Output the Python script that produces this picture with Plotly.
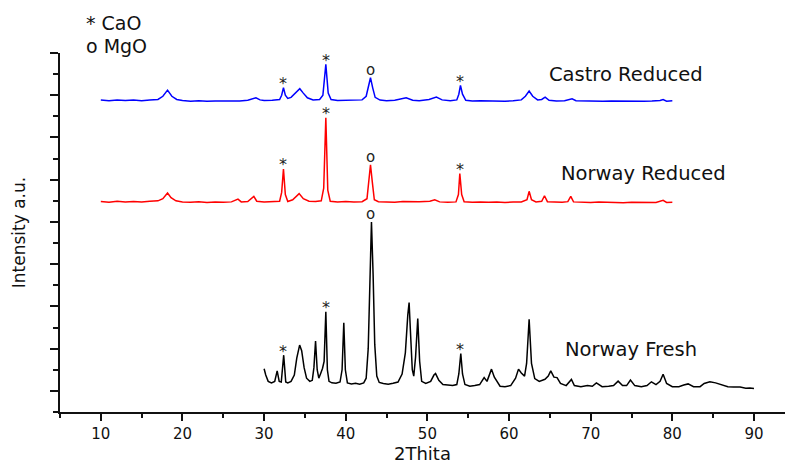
import plotly.graph_objects as go

# ---------------- data ----------------
# Norway Fresh (black)
fresh_x = [30.0, 30.2, 30.5, 30.9, 31.3, 31.6, 31.85, 32.1, 32.4, 32.65, 32.9, 33.3, 33.7, 34.0, 34.35,
           34.6, 34.9, 35.2, 35.6, 35.9, 36.1, 36.3, 36.5, 36.7, 36.95, 37.15, 37.35, 37.56, 37.75, 37.95,
           38.3, 38.8, 39.3, 39.55, 39.76, 39.95, 40.2, 40.7, 41.2, 41.7, 42.2, 42.5, 42.75, 42.95, 43.15,
           43.35, 43.55, 43.8, 44.1, 44.6, 45.2, 45.8, 46.4, 46.9, 47.3, 47.6, 47.76, 47.95, 48.15, 48.33,
           48.55, 48.82, 49.05, 49.3, 49.8, 50.4, 50.8, 51.0, 51.4, 51.9, 52.5, 53.1, 53.6, 53.85, 54.09,
           54.3, 54.6, 55.2, 55.8, 56.4, 56.95, 57.3, 57.85, 58.2, 58.9, 59.5, 60.2, 60.8, 61.16, 61.5,
           61.9, 62.15, 62.46, 62.75, 63.15, 63.7, 64.4, 64.8, 65.11, 65.5, 65.88, 66.3, 67.0, 67.64, 68.0,
           68.8, 69.6, 70.2, 70.7, 71.4, 72.2, 72.8, 73.36, 73.9, 74.4, 74.87, 75.4, 76.2, 76.9, 77.44,
           78.0, 78.5, 78.87, 79.3, 80.0, 80.8, 81.4, 81.93, 82.6, 83.4, 83.9, 84.6, 85.3, 86.0, 86.8,
           87.5, 88.3, 89.0, 89.5, 90.0]
fresh_y = [2.05, 1.75, 1.45, 1.38, 1.45, 1.95, 1.45, 1.42, 2.69, 1.42, 1.38, 1.45, 1.75, 2.55, 3.17,
           2.9, 2.1, 1.6, 1.45, 1.5, 2.1, 3.36, 2.0, 1.6, 1.85, 2.06, 2.4, 4.75, 2.0, 1.45,
           1.38, 1.36, 1.42, 2.0, 4.23, 2.0, 1.38, 1.33, 1.36, 1.32, 1.38, 1.6, 3.0, 6.5, 9.0,
           6.5, 3.2, 1.7, 1.4, 1.35, 1.32, 1.36, 1.42, 1.8, 2.8, 4.6, 5.18, 3.6, 2.0, 1.7,
           2.6, 4.43, 2.4, 1.45, 1.35, 1.45, 1.75, 1.82, 1.5, 1.3, 1.28, 1.25, 1.3, 1.8, 2.77,
           1.8, 1.3, 1.22, 1.25, 1.3, 1.63, 1.45, 2.03, 1.65, 1.22, 1.2, 1.25, 1.6, 2.03, 1.85,
           1.7, 2.3, 4.39, 2.3, 1.58, 1.45, 1.55, 1.7, 1.95, 1.65, 1.63, 1.35, 1.25, 1.54, 1.25,
           1.2, 1.25, 1.22, 1.38, 1.2, 1.22, 1.25, 1.46, 1.25, 1.25, 1.51, 1.25, 1.2, 1.25, 1.43,
           1.3, 1.45, 1.79, 1.35, 1.2, 1.2, 1.28, 1.33, 1.2, 1.2, 1.35, 1.43, 1.38, 1.3, 1.2,
           1.18, 1.18, 1.12, 1.14, 1.11]

# Norway Reduced (red)
nred_x = [10.0, 11.0, 12.0, 13.0, 14.0, 15.0, 16.0, 17.0, 17.6, 18.17, 18.6, 19.2, 20.0, 21.0, 22.0,
          23.0, 24.0, 25.0, 26.0, 26.8, 27.2, 28.0, 28.74, 29.1, 30.0, 31.0, 31.9, 32.15, 32.37, 32.6,
          32.9, 33.5, 34.29, 34.8, 35.5, 36.3, 37.0, 37.3, 37.56, 37.8, 38.1, 39.0, 40.0, 41.0, 42.0,
          42.6, 42.85, 43.03, 43.25, 43.5, 44.0, 45.0, 46.0, 47.0, 48.0, 49.0, 50.3, 50.9, 51.5, 52.5,
          53.5, 53.8, 53.97, 54.2, 54.5, 55.5, 56.5, 57.5, 58.5, 59.5, 60.5, 61.5, 62.2, 62.46, 62.75,
          63.3, 64.0, 64.34, 64.7, 65.5, 66.5, 67.2, 67.56, 67.9, 69.0, 70.0, 71.0, 72.0, 73.0, 74.0,
          75.0, 76.0, 77.0, 78.0, 78.87, 79.3, 80.0]
nred_y = [9.97, 9.93, 9.98, 9.95, 9.97, 9.94, 9.98, 10.0, 10.1, 10.37, 10.15, 10.0, 9.95, 9.93, 9.96,
          9.92, 9.95, 9.93, 9.95, 10.08, 9.95, 9.97, 10.21, 9.98, 9.95, 9.97, 9.98, 10.4, 11.51, 10.3,
          9.97, 10.05, 10.34, 10.1, 9.98, 9.97, 10.0, 10.6, 13.93, 10.5, 9.98, 9.95, 9.97, 9.95, 9.96,
          10.1, 10.9, 11.71, 10.9, 10.05, 9.96, 9.95, 9.93, 9.97, 9.95, 9.96, 9.98, 10.05, 9.95, 9.93,
          9.95, 10.3, 11.29, 10.3, 9.96, 9.93, 9.95, 9.93, 9.95, 9.92, 9.94, 9.95, 10.05, 10.45, 10.05,
          9.95, 9.98, 10.24, 9.96, 9.94, 9.93, 9.96, 10.21, 9.95, 9.93, 9.92, 9.94, 9.92, 9.93, 9.91,
          9.93, 9.92, 9.91, 9.92, 10.02, 9.92, 9.93]

# Castro Reduced (blue)
cred_x = [10.0, 11.0, 12.0, 13.0, 14.0, 15.0, 16.0, 17.0, 17.6, 18.17, 18.7, 19.3, 20.0, 21.0, 22.0,
          23.0, 24.0, 25.0, 26.0, 27.0, 28.0, 29.0, 29.5, 30.0, 31.0, 31.9, 32.15, 32.37, 32.6, 32.9,
          33.3, 33.9, 34.37, 34.8, 35.3, 36.0, 36.8, 37.2, 37.56, 37.85, 38.2, 39.0, 40.0, 41.0, 42.0,
          42.5, 42.8, 43.03, 43.3, 43.6, 44.2, 45.0, 46.0, 47.4, 48.2, 49.0, 50.2, 51.1, 51.8, 52.8,
          53.6, 53.85, 54.05, 54.3, 54.7, 55.5, 56.5, 57.5, 58.5, 59.5, 60.5, 61.5, 62.0, 62.46, 62.9,
          63.5, 64.0, 64.42, 64.9, 65.8, 66.8, 67.3, 67.72, 68.2, 69.5, 70.5, 71.5, 72.5, 73.5, 74.5,
          75.5, 76.5, 77.5, 78.5, 78.87, 79.3, 80.0]
cred_y = [14.77, 14.74, 14.78, 14.75, 14.77, 14.74, 14.78, 14.8, 14.95, 15.24, 14.95, 14.8, 14.75, 14.72, 14.74,
          14.71, 14.73, 14.72, 14.74, 14.73, 14.76, 14.88, 14.78, 14.75, 14.76, 14.8, 15.0, 15.36, 15.0, 14.85,
          14.9, 15.15, 15.31, 15.1, 14.88, 14.78, 14.8, 15.0, 16.46, 15.1, 14.8, 14.75, 14.76, 14.74, 14.78,
          14.95, 15.4, 15.83, 15.35, 14.9, 14.77, 14.74, 14.76, 14.88, 14.76, 14.74, 14.8, 14.91, 14.78, 14.74,
          14.78, 15.05, 15.47, 15.05, 14.76, 14.73, 14.74, 14.73, 14.75, 14.72, 14.74, 14.78, 14.95, 15.2, 14.95,
          14.78, 14.8, 14.91, 14.76, 14.73, 14.74, 14.77, 14.83, 14.74, 14.72, 14.73, 14.72, 14.73, 14.72, 14.73,
          14.71, 14.72, 14.73, 14.75, 14.8, 14.72, 14.74]

# peak positions that carry phase labels
cao_peaks = [32.37, 37.56, 54.05]
mgo_peaks = [43.03]

series_names = ["Castro Reduced", "Norway Reduced", "Norway Fresh"]
series_label_pos = [(64.6, 16.0), (66.1, 11.28), (66.6, 2.98)]

x_tickvals = [10, 20, 30, 40, 50, 60, 70, 80, 90]
x_minor = [5, 15, 25, 35, 45, 55, 65, 75, 85]
y_major = [1, 3, 5, 7, 9, 11, 13, 15, 17]
y_minor = [0, 2, 4, 6, 8, 10, 12, 14, 16]

FONT = "DejaVu Sans"

fig = go.Figure()
series = [(cred_x, cred_y, "#0000FF"), (nred_x, nred_y, "#FF0000"), (fresh_x, fresh_y, "#000000")]
for (xs, ys, col), name in zip(series, series_names):
    fig.add_trace(go.Scatter(x=xs, y=ys, mode="lines", name=name,
                             line=dict(color=col, width=1.5), showlegend=False))

def peak_height(xs, ys, xp):
    return max(y for x, y in zip(xs, ys) if abs(x - xp) <= 0.35)

annotations = []
for xs, ys, col in series:
    for p in cao_peaks:
        annotations.append(dict(x=p, y=peak_height(xs, ys, p), text="*", showarrow=False,
                                xanchor="center", yanchor="middle", yshift=4,
                                font=dict(family=FONT, size=16, color="#222")))
    for p in mgo_peaks:
        annotations.append(dict(x=p, y=peak_height(xs, ys, p), text="o", showarrow=False,
                                xanchor="center", yanchor="middle", yshift=8,
                                font=dict(family=FONT, size=15, color="#222")))

for name, (lx, ly) in zip(series_names, series_label_pos):
    annotations.append(dict(x=lx, y=ly, text=name, showarrow=False, xanchor="left",
                            yanchor="middle", font=dict(family=FONT, size=19.5, color="#111")))

# phase key above the plot area (paper coordinates)
annotations.append(dict(xref="paper", yref="paper", x=(8.0 - 5) / 88.8, y=(18.43 / 17),
                        text="* CaO", showarrow=False, xanchor="left", yanchor="middle",
                        font=dict(family=FONT, size=19, color="#111")))
annotations.append(dict(xref="paper", yref="paper", x=(8.0 - 5) / 88.8, y=(17.34 / 17),
                        text="o MgO", showarrow=False, xanchor="left", yanchor="middle",
                        font=dict(family=FONT, size=19, color="#111")))

fig.update_layout(
    width=785, height=466,
    margin=dict(l=60, r=0, t=53, b=54),
    paper_bgcolor="white", plot_bgcolor="white",
    font=dict(family=FONT, color="#111"),
    annotations=annotations,
    xaxis=dict(range=[5, 93.8], tickvals=x_tickvals, ticktext=[str(v) for v in x_tickvals],
               automargin=False,
               ticks="outside", ticklen=7, tickwidth=2, tickcolor="#111",
               minor=dict(tickvals=x_minor, ticks="outside", ticklen=4, tickwidth=2, tickcolor="#111"),
               showline=True, linecolor="#111", linewidth=2, showgrid=False, zeroline=False,
               tickfont=dict(family=FONT, size=15, color="#111"),
               title=dict(text="2Thita", font=dict(family=FONT, size=18, color="#111"), standoff=4)),
    yaxis=dict(range=[0, 17], tickvals=y_major, showticklabels=False, automargin=False,
               ticks="outside", ticklen=8, tickwidth=2, tickcolor="#111",
               minor=dict(tickvals=y_minor, ticks="outside", ticklen=5, tickwidth=2, tickcolor="#111"),
               showline=True, linecolor="#111", linewidth=2, showgrid=False, zeroline=False,
               title=dict(text="Intensity a.u.", font=dict(family=FONT, size=17, color="#111"), standoff=20)),
)

fig.write_html("out.html", config={"displayModeBar": False},
               post_script="document.body.style.margin='0';document.body.style.overflow='hidden';")
